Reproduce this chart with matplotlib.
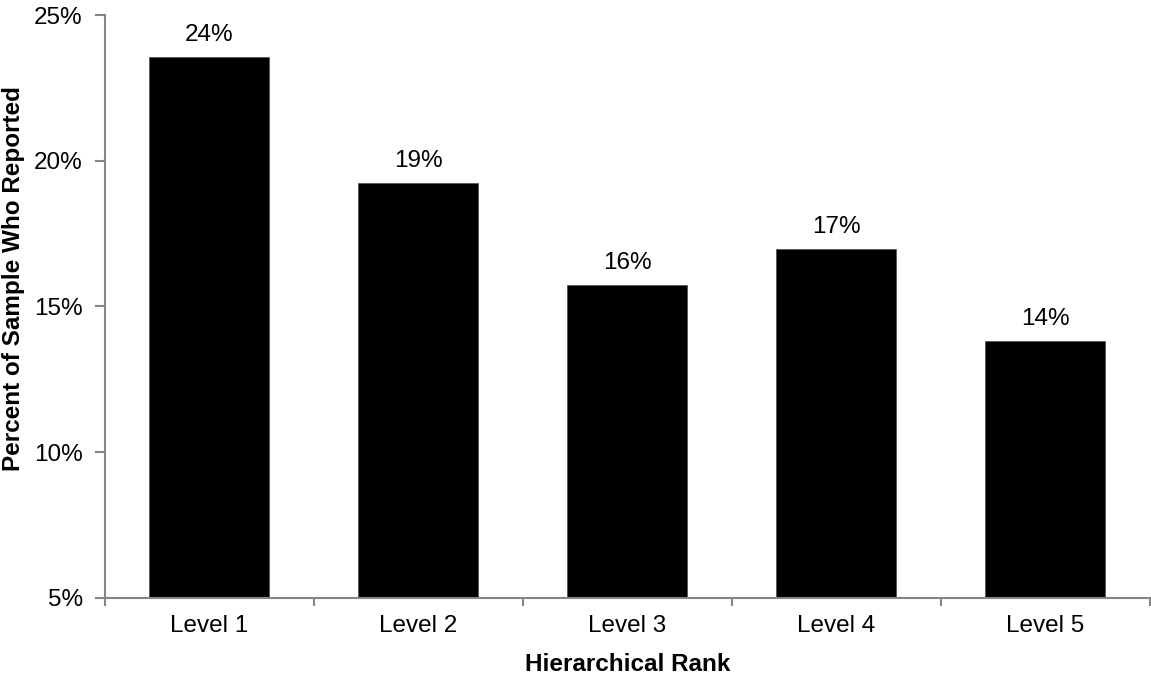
import matplotlib
matplotlib.use("Agg")
import matplotlib.pyplot as plt
from matplotlib.ticker import FuncFormatter

categories = ["Level 1", "Level 2", "Level 3", "Level 4", "Level 5"]
percent_reported = [23.57, 19.25, 15.75, 16.98, 13.83]
y_ticks = [5, 10, 15, 20, 25]

plt.rcParams["font.family"] = ["Liberation Sans", "DejaVu Sans"]
axis_grey = "#868686"
fs = 17.5

fig = plt.figure(figsize=(11.51, 6.76), dpi=100)
ax = fig.add_axes([0.0912, 0.1154, 0.9079, 0.8624])

x = list(range(len(categories)))
bars = ax.bar(x, percent_reported, width=0.574, color="black",
              edgecolor="#555555", linewidth=0.6, zorder=2)

ax.set_xlim(-0.5, len(categories) - 0.5)
ax.set_ylim(y_ticks[0], y_ticks[-1])
ax.set_yticks(y_ticks)
ax.yaxis.set_major_formatter(FuncFormatter(lambda v, _: f"{v:.0f}%"))

# Category labels centred on bars, tick marks on the category boundaries
ax.set_xticks(x)
ax.set_xticklabels(categories)
ax.tick_params(axis="x", which="major", length=0, pad=12.5, labelsize=fs)
ax.set_xticks([i - 0.5 for i in range(len(categories) + 1)], minor=True)
ax.tick_params(axis="x", which="minor", length=6, width=1.5, color=axis_grey)
ax.tick_params(axis="y", length=7, width=1.5, color=axis_grey, labelsize=fs, pad=9)

for side in ("top", "right"):
    ax.spines[side].set_visible(False)
for side in ("left", "bottom"):
    ax.spines[side].set_color(axis_grey)
    ax.spines[side].set_linewidth(1.5)

for rect, val in zip(bars, percent_reported):
    ax.annotate(f"{val:.0f}%", (rect.get_x() + rect.get_width() / 2, val),
                xytext=(0, 7.5), textcoords="offset points",
                ha="center", va="bottom", fontsize=fs)

ax.set_xlabel("Hierarchical Rank", fontsize=fs, fontweight="bold", labelpad=11)
fig.text(14 / 1151, 1 - 279 / 676, "Percent of Sample Who Reported",
         rotation=90, ha="center", va="center", fontsize=fs, fontweight="bold")

fig.savefig("out.png", dpi=100)
